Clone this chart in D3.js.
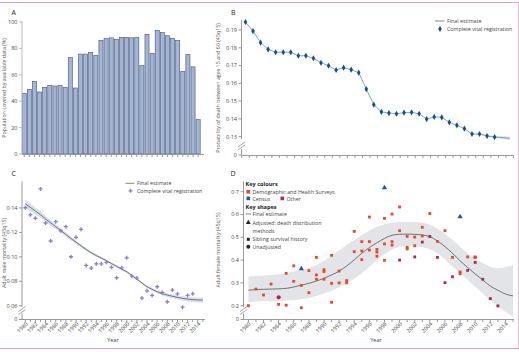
<!DOCTYPE html>
<html>
<head>
<meta charset="utf-8">
<script src="https://cdn.jsdelivr.net/npm/d3@7"></script>
<style>
body { margin: 0; background: #fff; }
text { font-family: 'Open Sans', sans-serif; }
</style>
</head>
<body>
<script>
// Data for the four panels

// Panel A - share of population covered by available data
var barYears = [1980, 1981, 1982, 1983, 1984, 1985, 1986, 1987, 1988, 1989, 1990, 1991, 1992, 1993, 1994, 1995, 1996, 1997,
	1998, 1999, 2000, 2001, 2002, 2003, 2004, 2005, 2006, 2007, 2008, 2009, 2010, 2011, 2012, 2013, 2014];
var coverage = [46, 49, 55, 47, 50.5, 52, 51.5, 51.8, 50.5, 73, 50, 75.7, 75.7, 77, 74.7, 86, 87.6, 88, 86.8, 88.4,
	88.4, 88, 88.4, 67, 90.6, 76.3, 93.7, 92, 89.6, 87.6, 86, 62.6, 75.5, 66, 26];
var ticksA = [0, 20, 40, 60, 80, 100];

// Panel B - complete vital registration, 45q15
var vrYearsB = [1980, 1981, 1982, 1983, 1984, 1985, 1986, 1987, 1988, 1989, 1990, 1991, 1992, 1993, 1994, 1995, 1996, 1997,
	1998, 1999, 2000, 2001, 2002, 2003, 2004, 2005, 2006, 2007, 2008, 2009, 2010, 2011, 2012, 2013];
var vrB = [0.1945, 0.1894, 0.1829, 0.1791, 0.1775, 0.1775, 0.1775, 0.1755, 0.1755, 0.1741, 0.1716, 0.1699, 0.1675, 0.1688,
	0.1677, 0.1660, 0.1568, 0.1480, 0.1440, 0.1433, 0.1429, 0.1435, 0.1437, 0.1429, 0.1399, 0.1411, 0.1409, 0.1381,
	0.1364, 0.1345, 0.1315, 0.1315, 0.1304, 0.1298];
var estYearsB = [1980, 1981, 1982, 1983, 1984, 1985, 1986, 1987, 1988, 1989, 1990, 1991, 1992, 1993, 1994, 1995, 1996, 1997,
	1998, 1999, 2000, 2001, 2002, 2003, 2004, 2005, 2006, 2007, 2008, 2009, 2010, 2011, 2012, 2013, 2014, 2015];
var estB = [0.1945, 0.1894, 0.1829, 0.1791, 0.1775, 0.1775, 0.1775, 0.1755, 0.1755, 0.1741, 0.1716, 0.1699, 0.1675, 0.1688,
	0.1677, 0.1660, 0.1568, 0.1480, 0.1440, 0.1433, 0.1429, 0.1435, 0.1437, 0.1429, 0.1399, 0.1411, 0.1409, 0.1381,
	0.1364, 0.1345, 0.1315, 0.1315, 0.1304, 0.1298, 0.1295, 0.1291];
var bandYearsB = [2009, 2010, 2011, 2012, 2013, 2014, 2015];
var bandLowB = [0.1343, 0.1313, 0.1312, 0.1300, 0.1292, 0.1287, 0.1281];
var bandHighB = [0.1347, 0.1317, 0.1318, 0.1308, 0.1304, 0.1303, 0.1301];
var ticksB = [0.13, 0.14, 0.15, 0.16, 0.17, 0.18, 0.19];

// Panel C - adult male mortality
var vrYearsC = [1980, 1981, 1982, 1983, 1984, 1985, 1986, 1987, 1988, 1989, 1990, 1991, 1992, 1993, 1994, 1995, 1996, 1997,
	1998, 1999, 2000, 2001, 2002, 2003, 2004, 2005, 2006, 2007, 2008, 2009, 2010, 2011, 2012, 2013];
var vrC = [0.1402, 0.1345, 0.1316, 0.1556, 0.1277, 0.1130, 0.1288, 0.1214, 0.1247, 0.1001, 0.1160, 0.1225, 0.0930, 0.0908,
	0.0943, 0.0943, 0.0955, 0.0914, 0.0829, 0.0910, 0.0992, 0.0842, 0.0826, 0.0662, 0.0722, 0.0684, 0.0755, 0.0709,
	0.0632, 0.0728, 0.0697, 0.0588, 0.0684, 0.0697];
var estYearsC = [1980, 1981, 1982, 1983, 1984, 1985, 1986, 1987, 1988, 1989, 1990, 1991, 1992, 1993, 1994, 1995, 1996, 1997,
	1998, 1999, 2000, 2001, 2002, 2003, 2004, 2005, 2006, 2007, 2008, 2009, 2010, 2011, 2012, 2013, 2014, 2015];
var estC = [0.1435, 0.1405, 0.1375, 0.1345, 0.1310, 0.1278, 0.1247, 0.1215, 0.1183, 0.1150, 0.1120, 0.1090, 0.1060, 0.1033,
	0.1010, 0.0990, 0.0968, 0.0945, 0.0922, 0.0900, 0.0878, 0.0848, 0.0818, 0.0786, 0.0755, 0.0734, 0.0714, 0.0698,
	0.0687, 0.0677, 0.0668, 0.0660, 0.0654, 0.0650, 0.0647, 0.0646];
var bandLowC = [0.1400, 0.1374, 0.1347, 0.1319, 0.1286, 0.1256, 0.1227, 0.1196, 0.1165, 0.1134, 0.1105, 0.1076, 0.1047,
	0.1021, 0.0999, 0.0979, 0.0957, 0.0934, 0.0911, 0.0889, 0.0867, 0.0837, 0.0807, 0.0775, 0.0744, 0.0722, 0.0701,
	0.0684, 0.0672, 0.0661, 0.0651, 0.0642, 0.0635, 0.0630, 0.0626, 0.0624];
var bandHighC = [0.1470, 0.1436, 0.1403, 0.1371, 0.1334, 0.1300, 0.1267, 0.1234, 0.1201, 0.1166, 0.1135, 0.1104, 0.1073,
	0.1045, 0.1021, 0.1001, 0.0979, 0.0956, 0.0933, 0.0911, 0.0889, 0.0859, 0.0829, 0.0797, 0.0766, 0.0746, 0.0727,
	0.0712, 0.0702, 0.0693, 0.0685, 0.0678, 0.0673, 0.0670, 0.0668, 0.0668];
var ticksC = [0.06, 0.08, 0.10, 0.12, 0.14];

// Panel D - adult female mortality
var estYearsD = [1980, 1981, 1982, 1983, 1984, 1985, 1986, 1987, 1988, 1989, 1990, 1991, 1992, 1993, 1994, 1995, 1996, 1997,
	1998, 1999, 2000, 2001, 2002, 2003, 2004, 2005, 2006, 2007, 2008, 2009, 2010, 2011, 2012, 2013, 2014, 2015];
var estD = [0.268, 0.271, 0.272, 0.273, 0.274, 0.276, 0.282, 0.290, 0.298, 0.308, 0.320, 0.335, 0.352, 0.374, 0.401, 0.430,
	0.455, 0.476, 0.495, 0.509, 0.513, 0.514, 0.513, 0.510, 0.503, 0.484, 0.459, 0.430, 0.397, 0.368, 0.339, 0.313,
	0.286, 0.268, 0.251, 0.243];
var bandYearsD = [1980, 1981, 1985, 1989, 1993, 1995, 1997, 1999, 2001, 2003, 2005, 2007, 2009, 2011, 2013, 2015];
var bandLowD = [0.215, 0.218, 0.222, 0.243, 0.298, 0.342, 0.400, 0.447, 0.462, 0.456, 0.430, 0.371, 0.313, 0.254, 0.196, 0.152];
var bandHighD = [0.328, 0.330, 0.342, 0.378, 0.466, 0.510, 0.546, 0.564, 0.568, 0.564, 0.539, 0.488, 0.430, 0.386, 0.364, 0.378];
var dhsSquares = [[1980, 0.200], [1981, 0.273], [1982, 0.247], [1983, 0.295], [1984, 0.206], [1985, 0.342], [1985, 0.202],
	[1986, 0.375], [1986, 0.307], [1987, 0.289], [1987, 0.191], [1988, 0.354], [1988, 0.257], [1989, 0.412], [1989, 0.335],
	[1989, 0.316], [1990, 0.358], [1990, 0.350], [1990, 0.316], [1991, 0.421], [1991, 0.298], [1991, 0.215], [1992, 0.352],
	[1992, 0.300], [1993, 0.310], [1993, 0.300], [1994, 0.526], [1994, 0.437], [1995, 0.481], [1995, 0.440], [1995, 0.402],
	[1996, 0.589], [1996, 0.481], [1996, 0.444], [1997, 0.447], [1997, 0.435], [1997, 0.417], [1998, 0.583], [1998, 0.471],
	[1998, 0.399], [1999, 0.602], [1999, 0.481], [1999, 0.466], [2000, 0.633], [2000, 0.529], [2001, 0.504], [2001, 0.456],
	[2001, 0.449], [2002, 0.501], [2002, 0.463], [2003, 0.544], [2003, 0.506], [2004, 0.604], [2005, 0.482], [2006, 0.529],
	[2007, 0.412], [2008, 0.348], [2008, 0.340], [2009, 0.414]];
var dhsCircles = [[2010, 0.413]];
var otherSquares = [[2000, 0.400], [2002, 0.414], [2003, 0.479], [2004, 0.504], [2005, 0.412], [2006, 0.301], [2007, 0.327],
	[2009, 0.355], [2010, 0.390], [2011, 0.316], [2012, 0.231], [2013, 0.199]];
var otherCircles = [[1984, 0.237]];
var censusTriangles = [[1987, 0.362], [1998, 0.717], [2008, 0.590]];
var ticksD = [0.2, 0.3, 0.4, 0.5, 0.6, 0.7];
var labelYears = [1980, 1982, 1984, 1986, 1988, 1990, 1992, 1994, 1996, 1998, 2000, 2002, 2004, 2006, 2008, 2010, 2012, 2014];
var allYears = [1980, 1981, 1982, 1983, 1984, 1985, 1986, 1987, 1988, 1989, 1990, 1991, 1992, 1993, 1994, 1995, 1996, 1997,
	1998, 1999, 2000, 2001, 2002, 2003, 2004, 2005, 2006, 2007, 2008, 2009, 2010, 2011, 2012, 2013, 2014, 2015, 2016];

var colDHS = '#e8492c', colCensus = '#1d5aa6', colOther = '#b0284f';
var axisCol = '#9a9a9a', textCol = '#444';

var svg = d3.select('body').append('svg').attr('width', 519).attr('height', 352);

// Frame lines
svg.append('line').attr('x1', 0).attr('x2', 519).attr('y1', 2.5).attr('y2', 2.5).style('stroke', '#d9a3bd');
svg.append('line').attr('x1', 0).attr('x2', 519).attr('y1', 348.5).attr('y2', 348.5).style('stroke', '#d9a3bd');
svg.append('line').attr('x1', 518.5).attr('x2', 518.5).attr('y1', 2.5).attr('y2', 348.5).style('stroke', '#e6c3d3');

// Helpers

// Lancet style decimal point
function fmtDot(spec) {
	var f = d3.format(spec);
	return function(d) { return f(d).replace('.', '·'); };
};

function panelLetter(x, y, t) {
	svg.append('text').attr('x', x).attr('y', y).text(t)
		.style('font-size', '7px').style('fill', '#222');
};

function yLabel(x, y, t) {
	svg.append('text').attr('transform', 'translate(' + x + ',' + y + ') rotate(-90)')
		.style('text-anchor', 'middle').style('font-size', '5.3px').style('fill', '#555').text(t);
};

// Vertical axis with an optional break above zero
function drawYAxis(x, scale, ticks, fmt, top, bottom, zeroY, col) {
	var g = svg.append('g');
	g.append('line').attr('x1', x).attr('x2', x).attr('y1', top).attr('y2', bottom).style('stroke', col);
	var all = ticks.map(function(d) { return { y: scale(d), t: fmt(d) }; });
	if (zeroY) {
		g.append('line').attr('x1', x).attr('x2', x).attr('y1', zeroY - 6).attr('y2', zeroY).style('stroke', col);
		all.push({ y: zeroY, t: '0' });
		var by = zeroY - 9;
		[-1.5, 1.5].forEach(function(o) {
			g.append('line').attr('x1', x - 3.5).attr('x2', x + 3.5)
				.attr('y1', by + o + 2.5).attr('y2', by + o - 2.5).style('stroke', '#666').style('stroke-width', 0.6);
		});
	}
	g.selectAll('.tk').data(all).enter().append('line')
		.attr('x1', x - 3).attr('x2', x).attr('y1', function(d) { return d.y; }).attr('y2', function(d) { return d.y; })
		.style('stroke', col);
	g.selectAll('.tl').data(all).enter().append('text')
		.attr('x', x - 4.5).attr('y', function(d) { return d.y; }).attr('dy', '0.35em')
		.style('text-anchor', 'end').style('font-size', '5.5px').style('fill', textCol)
		.text(function(d) { return d.t; });
};

// Horizontal axis with year ticks
function drawXAxis(y, x1, x2, tickXs, col) {
	svg.append('line').attr('x1', x1).attr('x2', x2).attr('y1', y).attr('y2', y).style('stroke', col);
	svg.append('g').selectAll('line').data(tickXs).enter().append('line')
		.attr('x1', function(d) { return d; }).attr('x2', function(d) { return d; })
		.attr('y1', y).attr('y2', y + 2.5).style('stroke', col);
};

function yearLabels(y, scale) {
	svg.append('g').selectAll('text').data(labelYears).enter().append('text')
		.attr('transform', function(d) { return 'translate(' + (scale(d) + 1.5) + ',' + (y + 3.5) + ') rotate(-45)'; })
		.attr('dy', '0.35em').style('text-anchor', 'end').style('font-size', '5.5px').style('fill', textCol)
		.text(function(d) { return d; });
};

function legendText(x, y, t, bold) {
	svg.append('text').attr('x', x).attr('y', y).text(t)
		.style('font-size', bold ? '5.6px' : '5.3px').style('font-weight', bold ? 'bold' : 'normal')
		.style('fill', bold ? '#222' : '#444');
};

// ---------------- Panel A ----------------
panelLetter(11.5, 14.5, 'A');
var yA = d3.scaleLinear().domain([0, 100]).range([154, 22]);
var xA = d3.scaleBand().domain(barYears).range([21.8, 200.6]).paddingInner(0.2).paddingOuter(0.08);
svg.append('g').selectAll('rect').data(barYears).enter().append('rect')
	.attr('x', function(d) { return xA(d); })
	.attr('y', function(d, i) { return yA(coverage[i]); })
	.attr('width', xA.bandwidth())
	.attr('height', function(d, i) { return yA(0) - yA(coverage[i]); })
	.style('fill', '#a3b5d3').style('stroke', '#43557a').style('stroke-width', 0.6);
drawYAxis(22, yA, ticksA, function(d) { return d; }, 21, 154, null, '#bbb');
drawXAxis(154.5, 22, 204, barYears.map(function(d) { return xA(d) + xA.bandwidth() / 2; }), axisCol);
yLabel(6, 88, 'Population covered by available data (%)');

// ---------------- Panel B ----------------
panelLetter(231, 14.5, 'B');
var xB = d3.scaleLinear().domain([1980, 2016]).range([241.7, 513.5]);
var yB = d3.scaleLinear().domain([0.13, 0.19]).range([136.7, 30]);
svg.append('path')
	.datum(bandYearsB)
	.attr('d', d3.area()
		.x(function(d) { return xB(d + 0.5); })
		.y0(function(d, i) { return yB(bandLowB[i]); })
		.y1(function(d, i) { return yB(bandHighB[i]); }))
	.style('fill', '#d9e0ec');
svg.append('path')
	.datum(estYearsB)
	.attr('d', d3.line()
		.x(function(d) { return xB(d + 0.5); })
		.y(function(d, i) { return yB(estB[i]); }))
	.style('fill', 'none').style('stroke', '#5a8fc8').style('stroke-width', 0.8);
svg.append('g').selectAll('path').data(vrYearsB).enter().append('path')
	.attr('d', d3.symbol().type(d3.symbolDiamond).size(11))
	.attr('transform', function(d, i) { return 'translate(' + xB(d + 0.5) + ',' + yB(vrB[i]) + ')'; })
	.style('fill', '#114f92');
drawYAxis(241.5, yB, ticksB, fmtDot('.2f'), 20, 139, 155, axisCol);
drawXAxis(155.5, 241.5, 513.5, allYears.map(function(d) { return xB(d); }), axisCol);
yLabel(220, 88, 'Probability of death between ages 15 and 60 (45q15)');
svg.append('line').attr('x1', 435).attr('x2', 444.5).attr('y1', 21).attr('y2', 21).style('stroke', '#555').style('stroke-width', 0.7);
legendText(447, 22.8, 'Final estimate');
svg.append('path').attr('d', d3.symbol().type(d3.symbolDiamond).size(11))
	.attr('transform', 'translate(440,29)').style('fill', '#114f92');
legendText(447, 30.8, 'Complete vital registration');

// ---------------- Panel C ----------------
panelLetter(11.5, 175.5, 'C');
var xC = d3.scaleLinear().domain([1980, 2013]).range([25.3, 192.7]);
var yC = d3.scaleLinear().domain([0.06, 0.14]).range([305.7, 208]);
svg.append('path')
	.datum(estYearsC)
	.attr('d', d3.area()
		.x(function(d) { return xC(d); })
		.y0(function(d, i) { return yC(bandLowC[i]); })
		.y1(function(d, i) { return yC(bandHighC[i]); }))
	.style('fill', '#d9e0ec');
svg.append('path')
	.datum(estYearsC)
	.attr('d', d3.line()
		.x(function(d) { return xC(d); })
		.y(function(d, i) { return yC(estC[i]); }))
	.style('fill', 'none').style('stroke', '#555').style('stroke-width', 0.8);
svg.append('g').selectAll('path').data(vrYearsC).enter().append('path')
	.attr('d', d3.symbol().type(d3.symbolCross).size(9))
	.attr('transform', function(d, i) { return 'translate(' + xC(d) + ',' + yC(vrC[i]) + ')'; })
	.style('fill', '#8b80d2');
drawYAxis(22, yC, ticksC, fmtDot('.2f'), 181.5, 307, 319.5, axisCol);
drawXAxis(319.5, 22, 205, allYears.slice(0, 36).map(function(d) { return xC(d); }), axisCol);
yearLabels(319.5, xC);
yLabel(6, 253, 'Adult male mortality (45q15)');
svg.append('text').attr('x', 113).attr('y', 342).style('text-anchor', 'middle').style('font-size', '5.5px')
	.style('fill', textCol).text('Year');
svg.append('line').attr('x1', 125.5).attr('x2', 134.5).attr('y1', 183.3).attr('y2', 183.3).style('stroke', '#555').style('stroke-width', 0.7);
legendText(137, 185.2, 'Final estimate');
svg.append('path').attr('d', d3.symbol().type(d3.symbolCross).size(9))
	.attr('transform', 'translate(130.5,190.8)').style('fill', '#8b80d2');
legendText(137, 192.7, 'Complete vital registration');

// ---------------- Panel D ----------------
panelLetter(230.5, 175.5, 'D');
var xD = d3.scaleLinear().domain([1980, 2015]).range([248.4, 513]);
var yD = d3.scaleLinear().domain([0.2, 0.7]).range([305.7, 191.7]);
svg.append('path')
	.datum(bandYearsD)
	.attr('d', d3.area().curve(d3.curveMonotoneX)
		.x(function(d) { return xD(d); })
		.y0(function(d, i) { return yD(bandLowD[i]); })
		.y1(function(d, i) { return yD(bandHighD[i]); }))
	.style('fill', '#e2e4e8');
svg.append('path')
	.datum(estYearsD)
	.attr('d', d3.line().curve(d3.curveMonotoneX)
		.x(function(d) { return xD(d); })
		.y(function(d, i) { return yD(estD[i]); }))
	.style('fill', 'none').style('stroke', '#555').style('stroke-width', 0.8);

function dPoints(data, type, size, col) {
	svg.append('g').selectAll('path').data(data).enter().append('path')
		.attr('d', d3.symbol().type(type).size(size))
		.attr('transform', function(d) { return 'translate(' + xD(d[0]) + ',' + yD(d[1]) + ')'; })
		.style('fill', col);
};
dPoints(dhsSquares, d3.symbolSquare, 8, colDHS);
dPoints(otherSquares, d3.symbolSquare, 8, colOther);
dPoints(dhsCircles, d3.symbolCircle, 12, colDHS);
dPoints(otherCircles, d3.symbolCircle, 14, colOther);
dPoints(censusTriangles, d3.symbolTriangle, 12, colCensus);

drawYAxis(243.5, yD, ticksD, fmtDot('.1f'), 181.5, 307, 319.5, axisCol);
drawXAxis(319.5, 243.5, 514, allYears.slice(0, 36).map(function(d) { return xD(d); }), axisCol);
yearLabels(319.5, xD);
yLabel(220, 250, 'Adult female mortality (45q15)');
svg.append('text').attr('x', 376).attr('y', 342).style('text-anchor', 'middle').style('font-size', '5.5px')
	.style('fill', textCol).text('Year');

// Legend for panel D
legendText(245.5, 185.5, 'Key colours', true);
svg.append('rect').attr('x', 246.5).attr('y', 190).attr('width', 3.6).attr('height', 3.6).style('fill', colDHS);
legendText(252.5, 194, 'Demographic and Health Surveys');
svg.append('rect').attr('x', 246.5).attr('y', 196.6).attr('width', 3.6).attr('height', 3.6).style('fill', colCensus);
legendText(252.5, 200.6, 'Census');
svg.append('rect').attr('x', 280.5).attr('y', 196.6).attr('width', 3.6).attr('height', 3.6).style('fill', colOther);
legendText(286.5, 200.6, 'Other');
legendText(245.5, 209, 'Key shapes', true);
svg.append('line').attr('x1', 245.5).attr('x2', 251).attr('y1', 214).attr('y2', 214).style('stroke', '#555').style('stroke-width', 0.7);
legendText(252.5, 216, 'Final estimate');
svg.append('path').attr('d', d3.symbol().type(d3.symbolTriangle).size(10))
	.attr('transform', 'translate(248.3,222.6)').style('fill', '#222');
legendText(252.5, 224.5, 'Adjusted: death distribution');
legendText(252.5, 232.5, 'methods');
svg.append('path').attr('d', d3.symbol().type(d3.symbolSquare).size(9))
	.attr('transform', 'translate(248.3,239.3)').style('fill', '#222');
legendText(252.5, 241.3, 'Sibling survival history');
svg.append('path').attr('d', d3.symbol().type(d3.symbolCircle).size(12))
	.attr('transform', 'translate(248.3,246.8)').style('fill', '#222');
legendText(252.5, 248.8, 'Unadjusted');
</script>
</body>
</html>
